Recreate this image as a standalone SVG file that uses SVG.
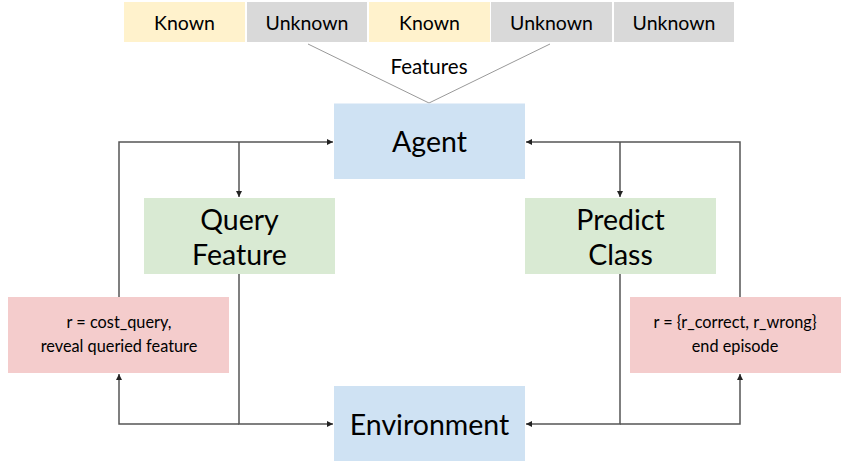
<svg xmlns="http://www.w3.org/2000/svg" width="841" height="461" viewBox="0 0 841 461">
<style>
text{font-family:"Lato","Noto Sans","Liberation Sans",sans-serif;fill:#000;text-anchor:middle}
.feat{font-size:19.5px}
.flab{font-size:20.5px}
.big{font-size:28.5px}
.small{font-size:16.3px}
.known{fill:#FFF2CC}
.unk{fill:#D9D9D9}
.blue{fill:#CFE2F3}
.green{fill:#D9EAD3}
.red{fill:#F4CCCC}
.conn{fill:none;stroke:#555;stroke-width:1.5}
.thin{fill:none;stroke:#999;stroke-width:1}
</style>
<defs>
<marker id="ah" markerWidth="8" markerHeight="8" refX="6" refY="3" orient="auto" markerUnits="userSpaceOnUse">
<path d="M0,0 L6,3 L0,6 z" fill="#222"/>
</marker>
</defs>
<g id="features">
<rect class="known" x="124" y="2" width="121" height="40"/>
<text class="feat" x="184.5" y="30">Known</text>
<rect class="unk" x="247" y="2" width="120" height="40"/>
<text class="feat" x="307" y="30">Unknown</text>
<rect class="known" x="369" y="2" width="121" height="40"/>
<text class="feat" x="429.5" y="30">Known</text>
<rect class="unk" x="491" y="2" width="121" height="40"/>
<text class="feat" x="551.5" y="30">Unknown</text>
<rect class="unk" x="614" y="2" width="120" height="40"/>
<text class="feat" x="674" y="30">Unknown</text>
<path class="thin" d="M308,44 L429,103 L550,44"/>
<text class="flab" x="429" y="74">Features</text>
</g>
<g id="agent">
<rect class="blue" x="334" y="103.5" width="191" height="75.5"/>
<text class="big" x="429.5" y="152">Agent</text>
</g>
<g id="query">
<rect class="green" x="144" y="198" width="191" height="76"/>
<text class="big" x="239.5" y="230">Query</text>
<text class="big" x="239.5" y="265">Feature</text>
</g>
<g id="predict">
<rect class="green" x="525" y="198" width="191" height="76"/>
<text class="big" x="620.5" y="230">Predict</text>
<text class="big" x="620.5" y="265">Class</text>
</g>
<g id="reward-query">
<rect class="red" x="8" y="297" width="221" height="76"/>
<text class="small" x="119" y="328">r = cost_query,</text>
<text class="small" x="119" y="352">reveal queried feature</text>
</g>
<g id="reward-predict">
<rect class="red" x="630" y="297" width="211" height="76"/>
<text class="small" x="735" y="328">r = {r_correct, r_wrong}</text>
<text class="small" x="735" y="352">end episode</text>
</g>
<g id="environment">
<rect class="blue" x="334" y="386" width="191" height="75"/>
<text class="big" x="429.5" y="435">Environment</text>
</g>
<g id="connectors">
<path class="conn" d="M119,297 V142 H333" marker-end="url(#ah)"/>
<path class="conn" d="M239,142 V197" marker-end="url(#ah)"/>
<path class="conn" d="M740,297 V142 H526" marker-end="url(#ah)"/>
<path class="conn" d="M620,142 V197" marker-end="url(#ah)"/>
<path class="conn" d="M239,274 V424 H333" marker-end="url(#ah)"/>
<path class="conn" d="M239,424 H119 V374" marker-end="url(#ah)"/>
<path class="conn" d="M620,274 V424 H526" marker-end="url(#ah)"/>
<path class="conn" d="M620,424 H740 V374" marker-end="url(#ah)"/>
</g>
</svg>
